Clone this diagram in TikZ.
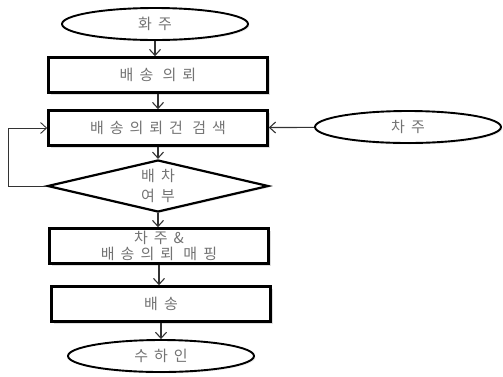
\documentclass[tikz,border=0pt]{standalone}
\usepackage{fontspec}
\setmainfont{Noto Sans CJK KR}[LetterSpace=40]
\usetikzlibrary{arrows.meta,shapes.geometric,shadows}
\tikzset{
	stepbox/.style={draw, line width=2.6pt, minimum width=219pt, minimum height=35pt, inner sep=0pt, fill=white, text=black!55, drop shadow={opacity=0.25, shadow xshift=2pt, shadow yshift=-2pt}},
	endbox/.style={draw, ellipse, line width=1.9pt, minimum width=186pt, minimum height=32pt, inner sep=0pt, fill=white, text=black!55, drop shadow={opacity=0.15, shadow xshift=1.5pt, shadow yshift=-1.5pt}},
	askbox/.style={draw, diamond, aspect=4.25, line width=2.2pt, minimum width=221pt, minimum height=52pt, inner sep=0pt, align=center, fill=white, text=black!55, drop shadow={opacity=0.15, shadow xshift=1.5pt, shadow yshift=-1.5pt}},
	flow/.style={-{Straight Barb[length=6pt,width=11pt]}, line width=1.1pt, black!80}
}
\begin{document}
\begin{tikzpicture}[x=1pt,y=-1pt,font=\fontsize{15}{16}\selectfont]
		%%%%% START %%%%%
		\useasboundingbox (0, 0) rectangle (503, 376);
		
		\node[endbox] (shipper) at (155, 24) {화주};
		\node[stepbox] (request) at (158, 75) {배송 의뢰};
		\node[stepbox] (search) at (158, 128) {배송의뢰건 검색};
		\node[endbox] (owner) at (408, 127) {차주};
		\node[askbox, font=\fontsize{15}{20}\selectfont] (assign) at (158, 186) {배차\\여부};
		\node[stepbox, align=center] (match) at (159, 246) {차주\&\\배송의뢰 매핑};
		\node[stepbox] (deliver) at (161, 304) {배송};
		\node[endbox] (receiver) at (161, 356) {수하인};
		
		\draw[flow] (shipper.south) -- (shipper.south |- request.north);
		\draw[flow] (request) -- (search);
		\draw[flow] (owner) -- (search);
		\draw[flow] (search) -- (assign);
		\draw[flow] (assign.south) -- (assign.south |- match.north);
		\draw[flow] (match.south) -- (match.south |- deliver.north);
		\draw[flow] (deliver) -- (receiver);
		
		\coordinate (back) at (8, 186);
		\draw[flow, line width=0.9pt] (assign.west) -- (back) |- (search.west);
		
		%%%%% END %%%%%
\end{tikzpicture}
\end{document}
